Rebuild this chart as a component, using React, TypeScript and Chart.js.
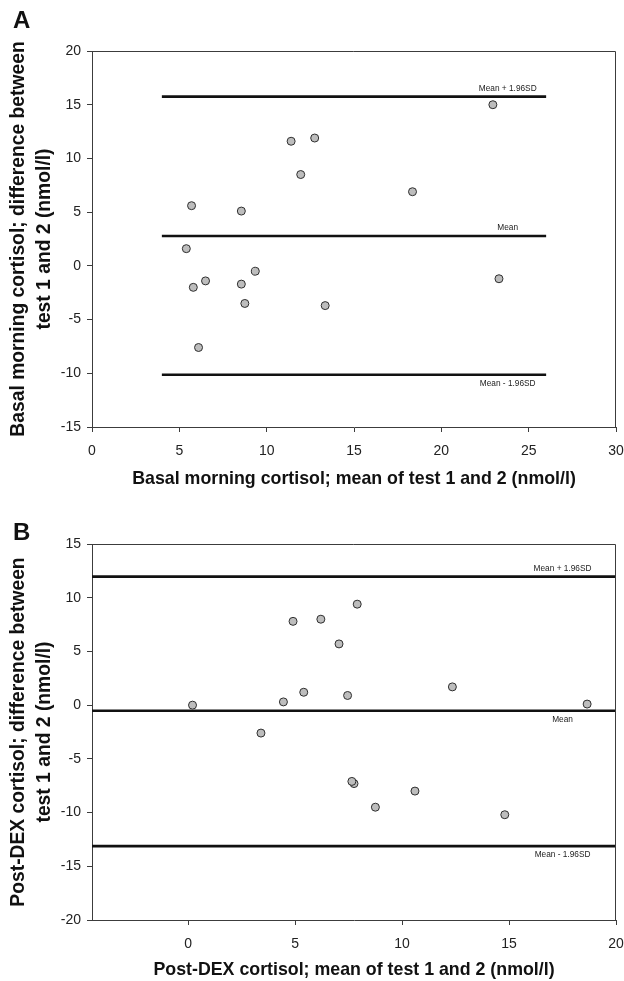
import React, { useEffect, useRef } from 'react';
import { Chart, registerables } from 'chart.js';

Chart.register(...registerables);

const FONT = "'Liberation Sans', Arial, Helvetica, sans-serif";

// ---------- Panel A: basal morning cortisol ----------
const basalMean = [5.4, 5.7, 5.8, 6.1, 6.5, 8.55, 8.55, 8.75, 9.35, 11.4, 11.95, 12.75, 13.35, 18.35, 22.95, 23.3];
const basalDiff = [1.6, 5.6, -2.0, -7.6, -1.4, 5.1, -1.7, -3.5, -0.5, 11.6, 8.5, 11.9, -3.7, 6.9, 15.0, -1.2];
const basalLimits = [15.75, 2.78, -10.14];
const basalLimitX = [4, 26];
const basalLabelX = 23.8;
const basalXTicks = [0, 5, 10, 15, 20, 25, 30];
const basalYTicks = [-15, -10, -5, 0, 5, 10, 15, 20];
const basalXTitle = 'Basal morning cortisol; mean of test 1 and 2 (nmol/l)';
const basalYTitle = ['Basal morning cortisol; difference between', 'test 1 and 2 (nmol/l)'];

// ---------- Panel B: post-DEX cortisol ----------
const dexMean = [0.2, 3.4, 4.45, 4.9, 5.4, 6.2, 7.05, 7.45, 7.75, 7.65, 7.9, 8.75, 10.6, 12.35, 14.8, 18.65];
const dexDiff = [0.0, -2.6, 0.3, 7.8, 1.2, 8.0, 5.7, 0.9, -7.3, -7.1, 9.4, -9.5, -8.0, 1.7, -10.2, 0.1];
const dexLimits = [11.96, -0.52, -13.12];
const dexLimitX = [-4.5, 20];
const dexLabelX = 17.5;
const dexXTicks = [0, 5, 10, 15, 20];
const dexYTicks = [-20, -15, -10, -5, 0, 5, 10, 15];
const dexXTitle = 'Post-DEX cortisol; mean of test 1 and 2 (nmol/l)';
const dexYTitle = ['Post-DEX cortisol; difference between', 'test 1 and 2 (nmol/l)'];

const limitLabels = ['Mean + 1.96SD', 'Mean', 'Mean - 1.96SD'];

const AXIS_COLOR = '#3c3c3c';

const decorPlugin = {
  id: 'decor',
  afterDatasetsDraw(chart: any, _args: any, opts: any) {
    const { ctx, chartArea, scales } = chart;
    ctx.save();
    // frame (top and right sides)
    ctx.strokeStyle = AXIS_COLOR;
    ctx.lineWidth = 1;
    ctx.beginPath();
    ctx.moveTo(chartArea.left, chartArea.top + 0.5);
    ctx.lineTo(chartArea.right - 0.5, chartArea.top + 0.5);
    ctx.lineTo(chartArea.right - 0.5, chartArea.bottom);
    ctx.stroke();
    // limit labels
    ctx.fillStyle = '#222';
    ctx.font = `8.3px ${FONT}`;
    ctx.textAlign = 'center';
    ctx.textBaseline = 'middle';
    const xPix = scales.x.getPixelForValue(opts.labelX);
    opts.limits.forEach((v: number, i: number) => {
      const yPix = scales.y.getPixelForValue(v) + (opts.sides[i] === 'above' ? -8 : 9);
      ctx.fillText(limitLabels[i], xPix, yPix);
    });
    // panel letter
    ctx.fillStyle = '#111';
    ctx.font = `bold 24px ${FONT}`;
    ctx.textAlign = 'left';
    ctx.textBaseline = 'alphabetic';
    ctx.fillText(opts.letter, 13, opts.letterY);
    ctx.restore();
  },
};

type PanelDef = {
  xs: number[];
  ys: number[];
  limits: number[];
  limitX: number[];
  labelX: number;
  sides: string[];
  xMin: number;
  xMax: number;
  yMin: number;
  yMax: number;
  xTicks: number[];
  yTicks: number[];
  xTitle: string;
  yTitle: string[];
  letter: string;
  letterY: number;
  padTop: number;
  xAxisH: number;
};

function buildConfig(p: PanelDef): any {
  const datasets: any[] = p.limits.map((v) => ({
    type: 'scatter',
    data: p.limitX.map((x) => ({ x, y: v })),
    showLine: true,
    borderColor: '#111',
    borderWidth: 2.6,
    pointRadius: 0,
    fill: false,
    order: 2,
  }));
  datasets.push({
    type: 'scatter',
    data: p.xs.map((x, i) => ({ x, y: p.ys[i] })),
    pointRadius: 4,
    pointBackgroundColor: '#bdbdbd',
    pointBorderColor: '#2e2e2e',
    pointBorderWidth: 1,
    showLine: false,
    order: 1,
  });
  return {
    type: 'scatter',
    data: { datasets },
    plugins: [decorPlugin],
    options: {
      animation: false,
      responsive: true,
      maintainAspectRatio: false,
      layout: { padding: { left: 0, right: 0, top: p.padTop, bottom: 0 } },
      plugins: {
        legend: { display: false },
        tooltip: { enabled: false },
        decor: { limits: p.limits, labelX: p.labelX, sides: p.sides, letter: p.letter, letterY: p.letterY },
      },
      scales: {
        x: {
          type: 'linear',
          min: p.xMin,
          max: p.xMax,
          afterBuildTicks: (s: any) => {
            s.ticks = p.xTicks.map((v) => ({ value: v }));
          },
          afterFit: (s: any) => {
            s.height = p.xAxisH;
            s.paddingRight = 8;
            s.paddingLeft = 0;
          },
          grid: { display: true, drawOnChartArea: false, drawTicks: true, tickLength: 5, color: AXIS_COLOR },
          border: { display: true, color: AXIS_COLOR, width: 1 },
          ticks: { font: { family: FONT, size: 14 }, color: '#222', padding: 11, maxRotation: 0, autoSkip: false },
          title: {
            display: true,
            text: p.xTitle,
            color: '#111',
            font: { family: FONT, size: 17.8, weight: 'bold', lineHeight: 1.2 },
            padding: { top: 0, bottom: 0 },
          },
        },
        y: {
          type: 'linear',
          min: p.yMin,
          max: p.yMax,
          afterBuildTicks: (s: any) => {
            s.ticks = p.yTicks.map((v) => ({ value: v }));
          },
          afterFit: (s: any) => {
            s.width = 92;
          },
          grid: { display: true, drawOnChartArea: false, drawTicks: true, tickLength: 5, color: AXIS_COLOR },
          border: { display: true, color: AXIS_COLOR, width: 1 },
          ticks: { font: { family: FONT, size: 14 }, color: '#222', padding: 6, autoSkip: false },
          title: {
            display: true,
            text: p.yTitle,
            color: '#111',
            font: { family: FONT, size: 19.3, weight: 'bold', lineHeight: 26 / 19.3 },
            padding: { top: 6, bottom: 0 },
          },
        },
      },
    },
  };
}

const panelA: PanelDef = {
  xs: basalMean,
  ys: basalDiff,
  limits: basalLimits,
  limitX: basalLimitX,
  labelX: basalLabelX,
  sides: ['above', 'above', 'below'],
  xMin: 0,
  xMax: 30,
  yMin: -15,
  yMax: 20,
  xTicks: basalXTicks,
  yTicks: basalYTicks,
  xTitle: basalXTitle,
  yTitle: basalYTitle,
  letter: 'A',
  letterY: 28,
  padTop: 51,
  xAxisH: 63,
};

const panelB: PanelDef = {
  xs: dexMean,
  ys: dexDiff,
  limits: dexLimits,
  limitX: dexLimitX,
  labelX: dexLabelX,
  sides: ['above', 'below', 'below'],
  xMin: -4.5,
  xMax: 20,
  yMin: -20,
  yMax: 15,
  xTicks: dexXTicks,
  yTicks: dexYTicks,
  xTitle: dexXTitle,
  yTitle: dexYTitle,
  letter: 'B',
  letterY: 50,
  padTop: 54,
  xAxisH: 61,
};

function Panel({ def, top, height }: { def: PanelDef; top: number; height: number }) {
  const ref = useRef<HTMLCanvasElement>(null);
  useEffect(() => {
    if (!ref.current) return;
    const chart = new Chart(ref.current, buildConfig(def));
    return () => chart.destroy();
  }, [def]);
  return (
    <div style={{ position: 'absolute', left: 0, top, width: 624, height }}>
      <canvas ref={ref} />
    </div>
  );
}

export default function App() {
  return (
    <div style={{ position: 'absolute', left: 0, top: 0, width: 624, height: 981, background: '#fff' }}>
      <Panel def={panelA} top={0} height={490} />
      <Panel def={panelB} top={490} height={491} />
    </div>
  );
}
